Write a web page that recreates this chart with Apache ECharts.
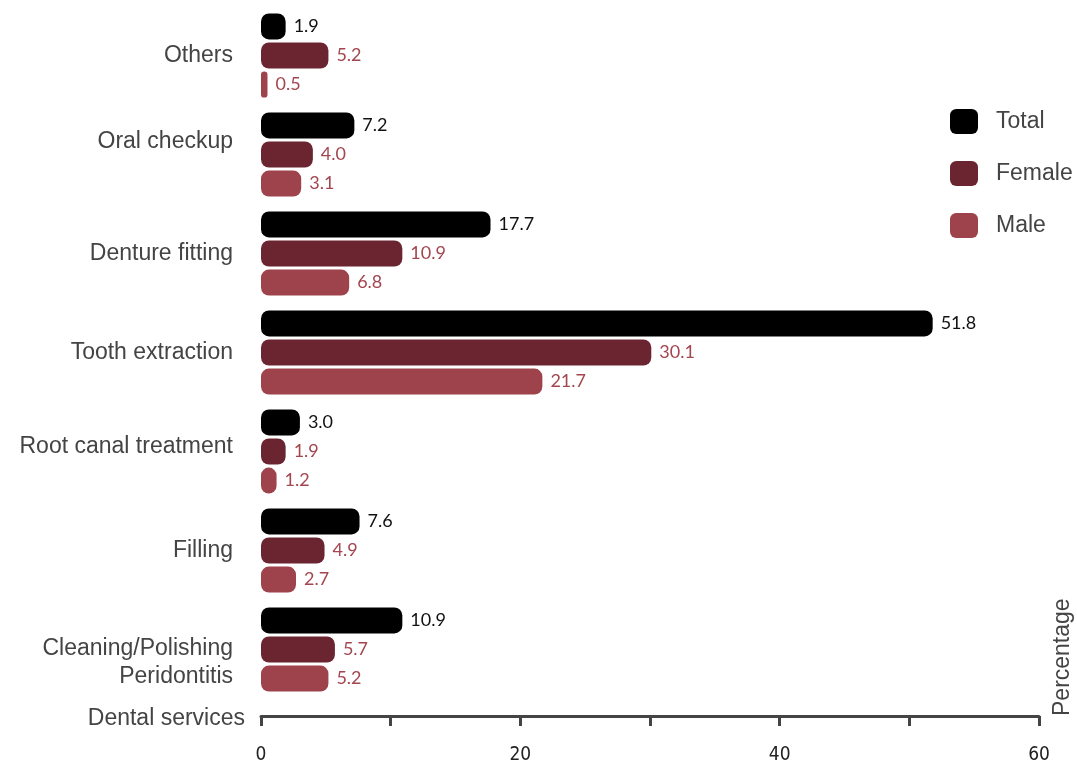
<!DOCTYPE html>
<html>
<head>
<meta charset="utf-8">
<script src="https://cdn.jsdelivr.net/npm/echarts@6/dist/echarts.min.js"></script>
<style>
  html, body { margin: 0; padding: 0; background: #ffffff; }
  #chart { width: 1077px; height: 765px; }
</style>
</head>
<body>
<div id="chart"></div>
<script>
// Dental services, listed bottom to top along the category axis
const categories = [
  'Cleaning/Polishing\nPeridontitis',
  'Filling',
  'Root canal treatment',
  'Tooth extraction',
  'Denture fitting',
  'Oral checkup',
  'Others'
];

// Percentages per service (same order as categories)
const totalValues  = [10.9, 7.6, 3.0, 51.8, 17.7, 7.2, 1.9];
const femaleValues = [5.7, 4.9, 1.9, 30.1, 10.9, 4.0, 5.2];
const maleValues   = [5.2, 2.7, 1.2, 21.7, 6.8, 3.1, 0.5];

// Axis ticks and labelled values
const xTicks = [0, 10, 20, 30, 40, 50, 60];
const xLabelled = [0, 20, 40, 60];

const colors = { Total: '#000000', Female: '#6b2530', Male: '#9e424c' };
const labelRed = '#a3464f';
const textGrey = '#444444';
const uiFont = 'Liberation Sans';

// Vertical nudge (px, negative = up) for some category labels
const labelNudge = { 'Oral checkup': -13, 'Root canal treatment': -5, 'Cleaning/Polishing\nPeridontitis': 13 };

function categoryLabel(value) {
  const s = labelNudge[value];
  if (s === undefined) return value;
  if (s < 0) {
    // single line: pad below to lift it
    return '{up' + (-s) + '|' + value + '}';
  }
  // push down with an empty spacer line above the text
  return '{sp' + s + '| }\n' + value;
}

const rich = {};
Object.keys(labelNudge).forEach(k => {
  const s = labelNudge[k];
  if (s < 0) {
    rich['up' + (-s)] = { color: textGrey, fontSize: 23, fontFamily: uiFont, padding: [0, 0, -2 * s, 0] };
  } else {
    rich['sp' + s] = { fontSize: 1, height: 2 * s, lineHeight: 2 * s };
  }
});

function barSeries(name, values, labelColor) {
  return {
    name: name,
    type: 'bar',
    data: values,
    barWidth: 26,
    barGap: '12%',
    itemStyle: { color: colors[name], borderRadius: 8 },
    label: {
      show: true,
      position: 'right',
      distance: 8,
      color: labelColor,
      fontFamily: 'Lato',
      fontSize: 18,
      formatter: p => p.value.toFixed(1)
    }
  };
}

const chart = echarts.init(document.getElementById('chart'), null, { renderer: 'canvas' });
chart.setOption({
  animation: false,
  backgroundColor: '#ffffff',
  textStyle: { fontFamily: uiFont },
  legend: {
    data: ['Total', 'Female', 'Male'],
    orient: 'vertical',
    left: 950,
    top: 109,
    padding: 0,
    icon: 'roundRect',
    itemWidth: 28,
    itemHeight: 25,
    itemGap: 27,
    textStyle: { color: textGrey, fontSize: 23, fontFamily: uiFont, padding: [0, 0, 0, 13] }
  },
  grid: { left: 261, right: 38, top: 6, bottom: 65 },
  xAxis: {
    type: 'value',
    min: xTicks[0],
    max: xTicks[xTicks.length - 1],
    interval: xTicks[1] - xTicks[0],
    offset: 17,
    name: 'Percentage',
    nameLocation: 'end',
    nameRotate: 90,
    nameGap: 12,
    nameTextStyle: { color: textGrey, fontSize: 23, fontFamily: uiFont, align: 'left', verticalAlign: 'top' },
    axisLine: { show: true, lineStyle: { color: textGrey, width: 3 } },
    axisTick: { show: true, length: 10, lineStyle: { color: textGrey, width: 3 } },
    splitLine: { show: false },
    axisLabel: {
      color: '#222222',
      fontSize: 19,
      fontFamily: 'DejaVu Sans Condensed',
      margin: 30,
      formatter: v => (xLabelled.indexOf(v) >= 0 ? String(v) : '')
    }
  },
  yAxis: {
    type: 'category',
    data: categories,
    name: 'Dental services',
    nameLocation: 'start',
    nameGap: 20,
    nameTextStyle: {
      color: textGrey, fontSize: 23, fontFamily: uiFont,
      align: 'right', verticalAlign: 'middle', padding: [0, 16, 0, 0]
    },
    axisLine: { show: false },
    axisTick: { show: false },
    axisLabel: {
      color: textGrey,
      fontSize: 23,
      fontFamily: uiFont,
      margin: 28,
      lineHeight: 28,
      align: 'right',
      formatter: categoryLabel,
      rich: rich
    }
  },
  series: [
    barSeries('Total', totalValues, '#111111'),
    barSeries('Female', femaleValues, labelRed),
    barSeries('Male', maleValues, labelRed)
  ]
});
</script>
</body>
</html>
